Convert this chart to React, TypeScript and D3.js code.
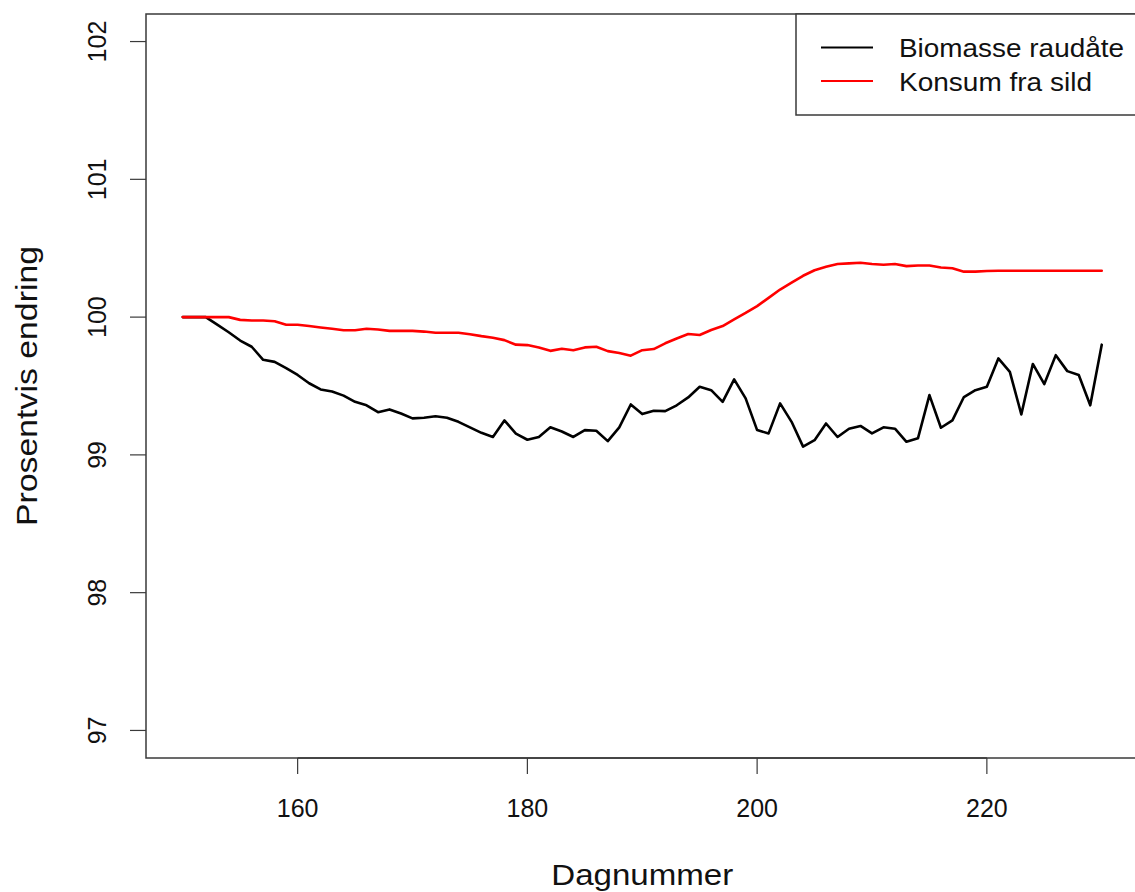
import React from "react";
import * as d3 from "d3";

const days: number[] = d3.range(150, 231);

const biomasseRaudate: number[] = [
  100, 100, 100, 99.945, 99.89, 99.83, 99.785, 99.69, 99.675, 99.63,
  99.58, 99.52, 99.475, 99.46, 99.43, 99.385, 99.36, 99.31, 99.33, 99.3,
  99.265, 99.27, 99.28, 99.27, 99.24, 99.2, 99.16, 99.13, 99.25, 99.155,
  99.11, 99.13, 99.2, 99.17, 99.13, 99.18, 99.175, 99.1, 99.2, 99.366,
  99.296, 99.32, 99.318, 99.36, 99.417, 99.494, 99.47, 99.385, 99.548, 99.41,
  99.18, 99.156, 99.374, 99.24, 99.06, 99.107, 99.228, 99.13, 99.19, 99.21,
  99.156, 99.2, 99.19, 99.095, 99.12, 99.434, 99.197, 99.25, 99.42, 99.47,
  99.494, 99.7, 99.603, 99.294, 99.66, 99.514, 99.724, 99.608, 99.58, 99.36,
  99.8,
];

const konsumFraSild: number[] = [
  100, 100, 100, 100, 100, 99.98, 99.975, 99.975, 99.97, 99.945,
  99.945, 99.935, 99.925, 99.915, 99.905, 99.905, 99.915, 99.91, 99.9, 99.9,
  99.9, 99.895, 99.886, 99.886, 99.886, 99.876, 99.862, 99.85, 99.833, 99.8,
  99.797, 99.78, 99.755, 99.77, 99.76, 99.78, 99.785, 99.753, 99.74, 99.72,
  99.76, 99.768, 99.81, 99.845, 99.877, 99.87, 99.906, 99.935, 99.983, 100.03,
  100.08, 100.14, 100.2, 100.25, 100.3, 100.34, 100.365, 100.385, 100.39, 100.395,
  100.385, 100.38, 100.385, 100.37, 100.375, 100.375, 100.36, 100.355, 100.33, 100.33,
  100.335, 100.336, 100.336, 100.336, 100.336, 100.336, 100.336, 100.336, 100.336, 100.336,
  100.336,
];

const xTicks: number[] = [160, 180, 200, 220];
const yTicks: number[] = [97, 98, 99, 100, 101, 102];
const seriesNames: string[] = ["Biomasse raudåte", "Konsum fra sild"];
const seriesColors: string[] = ["#000000", "#ff0000"];

const W = 1135;
const H = 892;
const FONT = "'Liberation Sans', Arial, Helvetica, sans-serif";

export default function App() {
  const left = 146;
  const right = 1138.5;
  const top = 14;
  const bottom = 758;

  const x = d3.scaleLinear().domain([146.8, 233.2]).range([left, right]);
  const y = d3.scaleLinear().domain([96.8, 102.2]).range([bottom, top]);

  const line = d3
    .line<number>()
    .x((_, i) => x(days[i]))
    .y((d) => y(d));

  const series = [biomasseRaudate, konsumFraSild];

  return (
    <svg
      width={W}
      height={H}
      style={{ position: "absolute", left: 0, top: 0, background: "#fff" }}
      fontFamily={FONT}
    >
      <rect x={0} y={0} width={W} height={H} fill="#fff" />
      {series.map((s, k) => (
        <path
          key={k}
          d={line(s) || ""}
          fill="none"
          stroke={seriesColors[k]}
          strokeWidth={2.6}
          strokeLinejoin="round"
          strokeLinecap="round"
        />
      ))}

      {/* plot frame */}
      <rect
        x={left}
        y={top}
        width={right - left}
        height={bottom - top}
        fill="none"
        stroke="#3a3a3a"
        strokeWidth={1.5}
      />

      {/* x axis */}
      <line
        x1={x(xTicks[0])}
        x2={x(xTicks[xTicks.length - 1])}
        y1={bottom}
        y2={bottom}
        stroke="#3a3a3a"
        strokeWidth={1.5}
      />
      {xTicks.map((t) => (
        <g key={t}>
          <line x1={x(t)} x2={x(t)} y1={bottom} y2={bottom + 16} stroke="#3a3a3a" strokeWidth={1.2} />
          <text x={x(t)} y={817} textAnchor="middle" fontSize={25} fill="#111">
            {t}
          </text>
        </g>
      ))}

      {/* y axis */}
      {yTicks.map((t) => (
        <g key={t}>
          <line x1={left - 16} x2={left} y1={y(t)} y2={y(t)} stroke="#3a3a3a" strokeWidth={1.2} />
          <text
            transform={`translate(106,${y(t)}) rotate(-90)`}
            textAnchor="middle"
            fontSize={25}
            fill="#111"
          >
            {t}
          </text>
        </g>
      ))}

      {/* axis titles */}
      <text
        x={(left + right) / 2}
        y={885}
        textAnchor="middle"
        fontSize={30}
        textLength={182}
        lengthAdjust="spacingAndGlyphs"
        fill="#111"
      >
        Dagnummer
      </text>
      <text
        transform={`translate(37,${(top + bottom) / 2}) rotate(-90)`}
        textAnchor="middle"
        fontSize={30}
        textLength={280}
        lengthAdjust="spacingAndGlyphs"
        fill="#111"
      >
        Prosentvis endring
      </text>

      {/* legend */}
      <rect x={796} y={top} width={right - 796} height={115 - top} fill="#fff" stroke="#3a3a3a" strokeWidth={1.5} />
      {seriesNames.map((n, k) => (
        <g key={n}>
          <line
            x1={821}
            x2={873}
            y1={47.5 + k * 33.5}
            y2={47.5 + k * 33.5}
            stroke={seriesColors[k]}
            strokeWidth={2}
          />
          <text
            x={899}
            y={57 + k * 33.5}
            fontSize={25}
            textLength={k === 0 ? 225 : 193}
            lengthAdjust="spacingAndGlyphs"
            fill="#111"
          >
            {n}
          </text>
        </g>
      ))}
    </svg>
  );
}
